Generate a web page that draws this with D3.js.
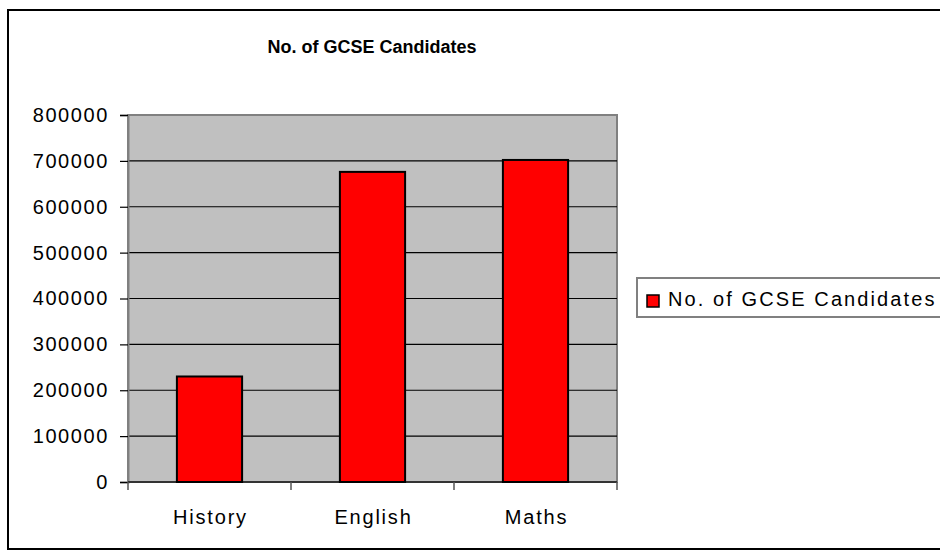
<!DOCTYPE html>
<html>
<head>
<meta charset="utf-8">
<script src="https://cdn.jsdelivr.net/npm/d3@7"></script>
<style>
  body { margin: 0; background: #fff; }
  text { font-family: "Liberation Sans", Arial, sans-serif; fill: #000; }
</style>
</head>
<body>
<div id="chart"></div>
<script>
// Data
const subjects = ["History", "English", "Maths"];
const candidates = [230000, 676000, 702000];
const yTicks = [0, 100000, 200000, 300000, 400000, 500000, 600000, 700000, 800000];
const seriesName = "No. of GCSE Candidates";

const W = 940, H = 552;
const plot = { left: 128, top: 115, right: 617, bottom: 482 };

const svg = d3.select("#chart").append("svg")
  .attr("width", W)
  .attr("height", H);

// outer chart border
svg.append("rect")
  .attr("x", 8).attr("y", 10)
  .attr("width", 980).attr("height", 539)
  .attr("fill", "#fff")
  .attr("stroke", "#000")
  .attr("stroke-width", 2);

// title
svg.append("text")
  .attr("x", 372).attr("y", 53)
  .attr("text-anchor", "middle")
  .attr("font-size", 18)
  .attr("font-weight", "bold")
  .text(seriesName);

const x = d3.scaleBand()
  .domain(subjects)
  .range([plot.left, plot.right]);

const y = d3.scaleLinear()
  .domain([0, 800000])
  .range([plot.bottom, plot.top]);

// plot area
svg.append("rect")
  .attr("x", plot.left).attr("y", plot.top)
  .attr("width", plot.right - plot.left)
  .attr("height", plot.bottom - plot.top)
  .attr("fill", "#c0c0c0")
  .attr("stroke", "#808080")
  .attr("stroke-width", 2);

// gridlines
svg.append("g")
  .selectAll("line")
  .data(yTicks.filter(d => d > 0 && d < 800000))
  .join("line")
  .attr("x1", plot.left).attr("x2", plot.right)
  .attr("y1", d => y(d)).attr("y2", d => y(d))
  .attr("stroke", "#000")
  .attr("stroke-width", 1.2);

// y axis
const yAxis = svg.append("g")
  .attr("transform", `translate(${plot.left},0)`)
  .call(d3.axisLeft(y).tickValues(yTicks).tickSize(8).tickPadding(11).tickFormat(d3.format("d")));
yAxis.select(".domain").attr("stroke", "#808080").attr("stroke-width", 2);
yAxis.selectAll(".tick line").attr("stroke", "#000").attr("stroke-width", 1.2);
yAxis.selectAll(".tick text")
  .attr("font-size", 20)
  .attr("letter-spacing", 1.6)
  .attr("font-family", "Liberation Sans, Arial, sans-serif")
  .attr("fill", "#000");

// x axis (ticks at category boundaries)
const bounds = subjects.map(s => x(s)).concat([plot.right]);
const xg = svg.append("g");
xg.append("line")
  .attr("x1", plot.left).attr("x2", plot.right)
  .attr("y1", plot.bottom).attr("y2", plot.bottom)
  .attr("stroke", "#333").attr("stroke-width", 2);
xg.selectAll("line.tk")
  .data(bounds)
  .join("line")
  .attr("class", "tk")
  .attr("x1", d => d).attr("x2", d => d)
  .attr("y1", plot.bottom).attr("y2", plot.bottom + 8)
  .attr("stroke", "#555").attr("stroke-width", 1.5);
xg.selectAll("text")
  .data(subjects)
  .join("text")
  .attr("x", d => x(d) + x.bandwidth() / 2 + 1)
  .attr("y", 524)
  .attr("text-anchor", "middle")
  .attr("font-size", 20)
  .attr("letter-spacing", 1.8)
  .text(d => d);

// bars
const barW = x.bandwidth() * 0.4;
const data = subjects.map((s, i) => ({ subject: s, value: candidates[i] }));
svg.append("g")
  .selectAll("rect")
  .data(data)
  .join("rect")
  .attr("x", d => x(d.subject) + (x.bandwidth() - barW) / 2)
  .attr("y", d => y(d.value))
  .attr("width", barW)
  .attr("height", d => plot.bottom - y(d.value))
  .attr("fill", "#ff0000")
  .attr("stroke", "#000")
  .attr("stroke-width", 2);

// legend
const lg = svg.append("g").attr("transform", "translate(637,278)");
lg.append("rect")
  .attr("x", 0).attr("y", 0)
  .attr("width", 320).attr("height", 39)
  .attr("fill", "#fff")
  .attr("stroke", "#808080")
  .attr("stroke-width", 2);
lg.append("rect")
  .attr("x", 10).attr("y", 17)
  .attr("width", 12).attr("height", 12)
  .attr("fill", "#ff0000")
  .attr("stroke", "#000")
  .attr("stroke-width", 1.5);
lg.append("text")
  .attr("x", 31).attr("y", 28)
  .attr("font-size", 20)
  .attr("letter-spacing", 2.1)
  .text(seriesName);
</script>
</body>
</html>
